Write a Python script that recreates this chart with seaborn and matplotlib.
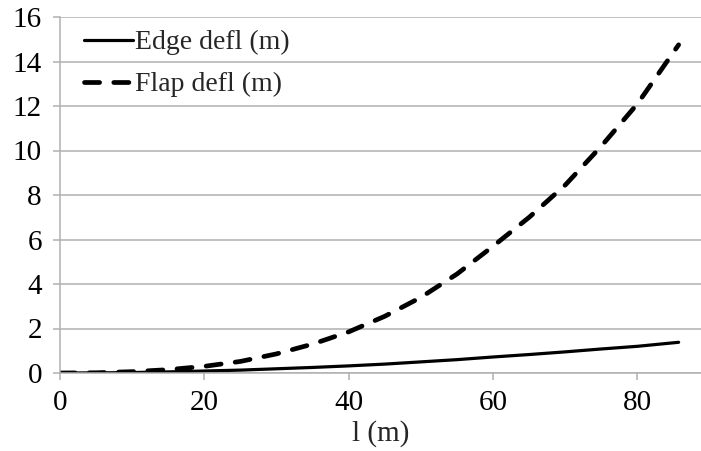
import matplotlib
matplotlib.use("Agg")
import matplotlib.pyplot as plt
import seaborn as sns
import pandas as pd

length_m = [0, 5, 10, 15, 20, 25, 30, 35, 40, 45, 50, 55, 60, 65, 70, 75, 80, 85.7]
edge_defl = [0, 0.005, 0.02, 0.05, 0.09, 0.13, 0.19, 0.25, 0.32, 0.4, 0.5, 0.6, 0.72, 0.83, 0.95, 1.08, 1.2, 1.38]
flap_defl = [0, 0.01, 0.06, 0.15, 0.3, 0.52, 0.86, 1.3, 1.85, 2.55, 3.4, 4.45, 5.7, 7.0, 8.45, 10.2, 12.1, 14.75]
x_ticks = [0, 20, 40, 60, 80]
y_ticks = [0, 2, 4, 6, 8, 10, 12, 14, 16]

sns.set_style("white")
plt.rcParams['font.family'] = ['Liberation Serif', 'DejaVu Serif']

df = pd.DataFrame({"l": length_m, "Edge defl (m)": edge_defl, "Flap defl (m)": flap_defl})

fig = plt.figure(figsize=(7.01, 4.51), dpi=100)
ax = fig.add_axes([60/701, 1-373/451, 1-60/701, 356/451])

sns.lineplot(data=df, x="l", y="Edge defl (m)", ax=ax, color="black", lw=2.3,
             label="Edge defl (m)")
sns.lineplot(data=df, x="l", y="Flap defl (m)", ax=ax, color="black", lw=3.4,
             label="Flap defl (m)", dashes=False)
line = ax.lines[1]
line.set_dashes((3.2, 3.0))
line.set_dash_capstyle("round")
line.set_solid_capstyle("round")

ax.set_xlim(0, 88.8)
ax.set_ylim(0, 16)
ax.set_xticks(x_ticks)
ax.set_yticks(y_ticks)
ax.grid(axis="y", color="#b0b0b0", lw=1.1)
ax.set_axisbelow(True)
for s in ["top", "right"]:
    ax.spines[s].set_visible(False)
for s in ["left", "bottom"]:
    ax.spines[s].set_color("#b0b0b0")
    ax.spines[s].set_linewidth(1.1)
ax.tick_params(axis="both", length=5, width=1.1, color="#b0b0b0", labelsize=21,
               labelcolor="black", direction="out", bottom=True, left=True)
ax.tick_params(axis="y", pad=8)
ax.tick_params(axis="x", pad=7)
ax.set_xlabel("l (m)", fontsize=21, labelpad=3)
ax.set_ylabel("")

leg = ax.legend(loc="upper left", frameon=False, fontsize=20, handlelength=1.75,
                handletextpad=0.1, borderaxespad=0.0, labelspacing=0.6,
                bbox_to_anchor=(0.02, 0.995))
for h in leg.legend_handles:
    h.set_color("black")
leg.legend_handles[1].set_dashes((3.2, 3.0))

fig.savefig("out.png", dpi=100)
